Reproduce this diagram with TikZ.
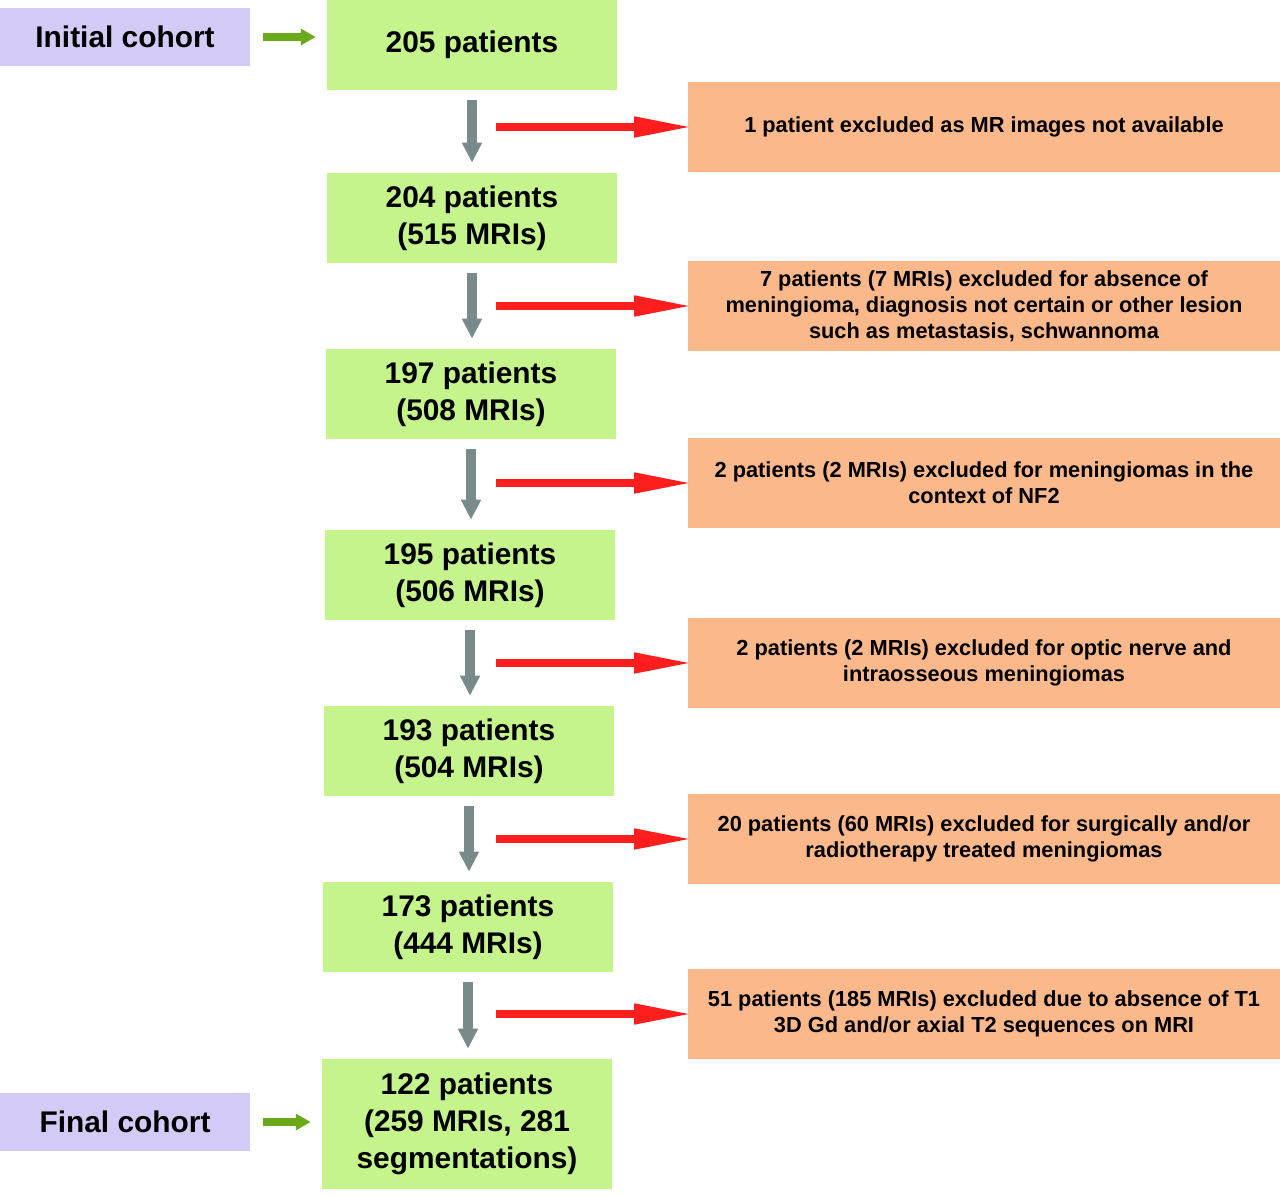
\documentclass[tikz,border=0pt]{standalone}
\usepackage{fontspec}
\setmainfont{Liberation Sans}
\usetikzlibrary{arrows.meta}

\definecolor{boxgreen}{HTML}{C5F48D}
\definecolor{boxlilac}{HTML}{D3CAF6}
\definecolor{boxorange}{HTML}{FBB98B}
\definecolor{arrgray}{HTML}{788A8A}
\definecolor{arrred}{HTML}{FF1E1E}
\definecolor{arrgreen}{HTML}{6AAA1A}

\tikzset{
    stagebox/.style={fill=boxgreen, minimum width=5.8cm, minimum height=1.8cm,
        align=center, font=\fontsize{17}{21}\selectfont\bfseries},
    cohortbox/.style={fill=boxlilac, minimum width=5cm, minimum height=1.16cm,
        font=\fontsize{17}{21}\selectfont\bfseries},
    exclbox/.style={fill=boxorange, minimum width=11.84cm, minimum height=1.8cm,
        align=center, font=\fontsize{12.4}{14.8}\selectfont\bfseries},
    downarrow/.style={arrgray, line width=5.7pt, -{Triangle[length=11.4pt,width=10.8pt]},
        shorten <=0.2cm, shorten >=0.2cm},
    outarrow/.style={arrred, line width=5.1pt, -{Triangle[length=35pt,width=10.5pt]},
        shorten >=-4.5pt},
    cohortarrow/.style={arrgreen, line width=4.5pt, -{Triangle[length=8.5pt,width=9pt]},
        shorten <=0.26cm, shorten >=0.22cm}
}

\begin{document}
\begin{tikzpicture}[x=0.02cm, y=-0.02cm]
    \useasboundingbox (0,0) rectangle (1280,1196);

    % main column
    \node[stagebox] (n205) at (472,45) {205 patients};
    \node[stagebox] (n204) at (472,218) {204 patients\\(515 MRIs)};
    \node[stagebox] (n197) at (471,394) {197 patients\\(508 MRIs)};
    \node[stagebox] (n195) at (470,575) {195 patients\\(506 MRIs)};
    \node[stagebox] (n193) at (469,751) {193 patients\\(504 MRIs)};
    \node[stagebox] (n173) at (468,927) {173 patients\\(444 MRIs)};
    \node[stagebox, minimum height=2.6cm] (n122) at (467,1124) {122 patients\\(259 MRIs, 281\\segmentations)};

    % cohort labels
    \node[cohortbox] (init) at (125,37) {Initial cohort};
    \node[cohortbox] (final) at (125,1122) {Final cohort};

    % exclusions
    \node[exclbox] (x1) at (984,127) {1 patient excluded as MR images not available};
    \node[exclbox] (x2) at (984,306) {7 patients (7 MRIs) excluded for absence of\\meningioma, diagnosis not certain or other lesion\\such as metastasis, schwannoma};
    \node[exclbox] (x3) at (984,483) {2 patients (2 MRIs) excluded for meningiomas in the\\context of NF2};
    \node[exclbox] (x4) at (984,663) {2 patients (2 MRIs) excluded for optic nerve and\\intraosseous meningiomas};
    \node[exclbox] (x5) at (984,839) {20 patients (60 MRIs) excluded for surgically and/or\\radiotherapy treated meningiomas};
    \node[exclbox] (x6) at (984,1014) {51 patients (185 MRIs) excluded due to absence of T1\\3D Gd and/or axial T2 sequences on MRI};

    % arrows
    \draw[cohortarrow] (init) -- (init -| n205.west);
    \draw[cohortarrow] (final) -- (final -| n122.west);

    \draw[downarrow] (n205) -- (n205 |- n204.north);
    \draw[downarrow] (n204) -- (n204 |- n197.north);
    \draw[downarrow] (n197) -- (n197 |- n195.north);
    \draw[downarrow] (n195) -- (n195 |- n193.north);
    \draw[downarrow] (n193) -- (n193 |- n173.north);
    \draw[downarrow] (n173) -- (n173 |- n122.north);

    \draw[outarrow] ([xshift=-3.84cm]x1.west) -- (x1.west);
    \draw[outarrow] ([xshift=-3.84cm]x2.west) -- (x2.west);
    \draw[outarrow] ([xshift=-3.84cm]x3.west) -- (x3.west);
    \draw[outarrow] ([xshift=-3.84cm]x4.west) -- (x4.west);
    \draw[outarrow] ([xshift=-3.84cm]x5.west) -- (x5.west);
    \draw[outarrow] ([xshift=-3.84cm]x6.west) -- (x6.west);
\end{tikzpicture}
\end{document}
